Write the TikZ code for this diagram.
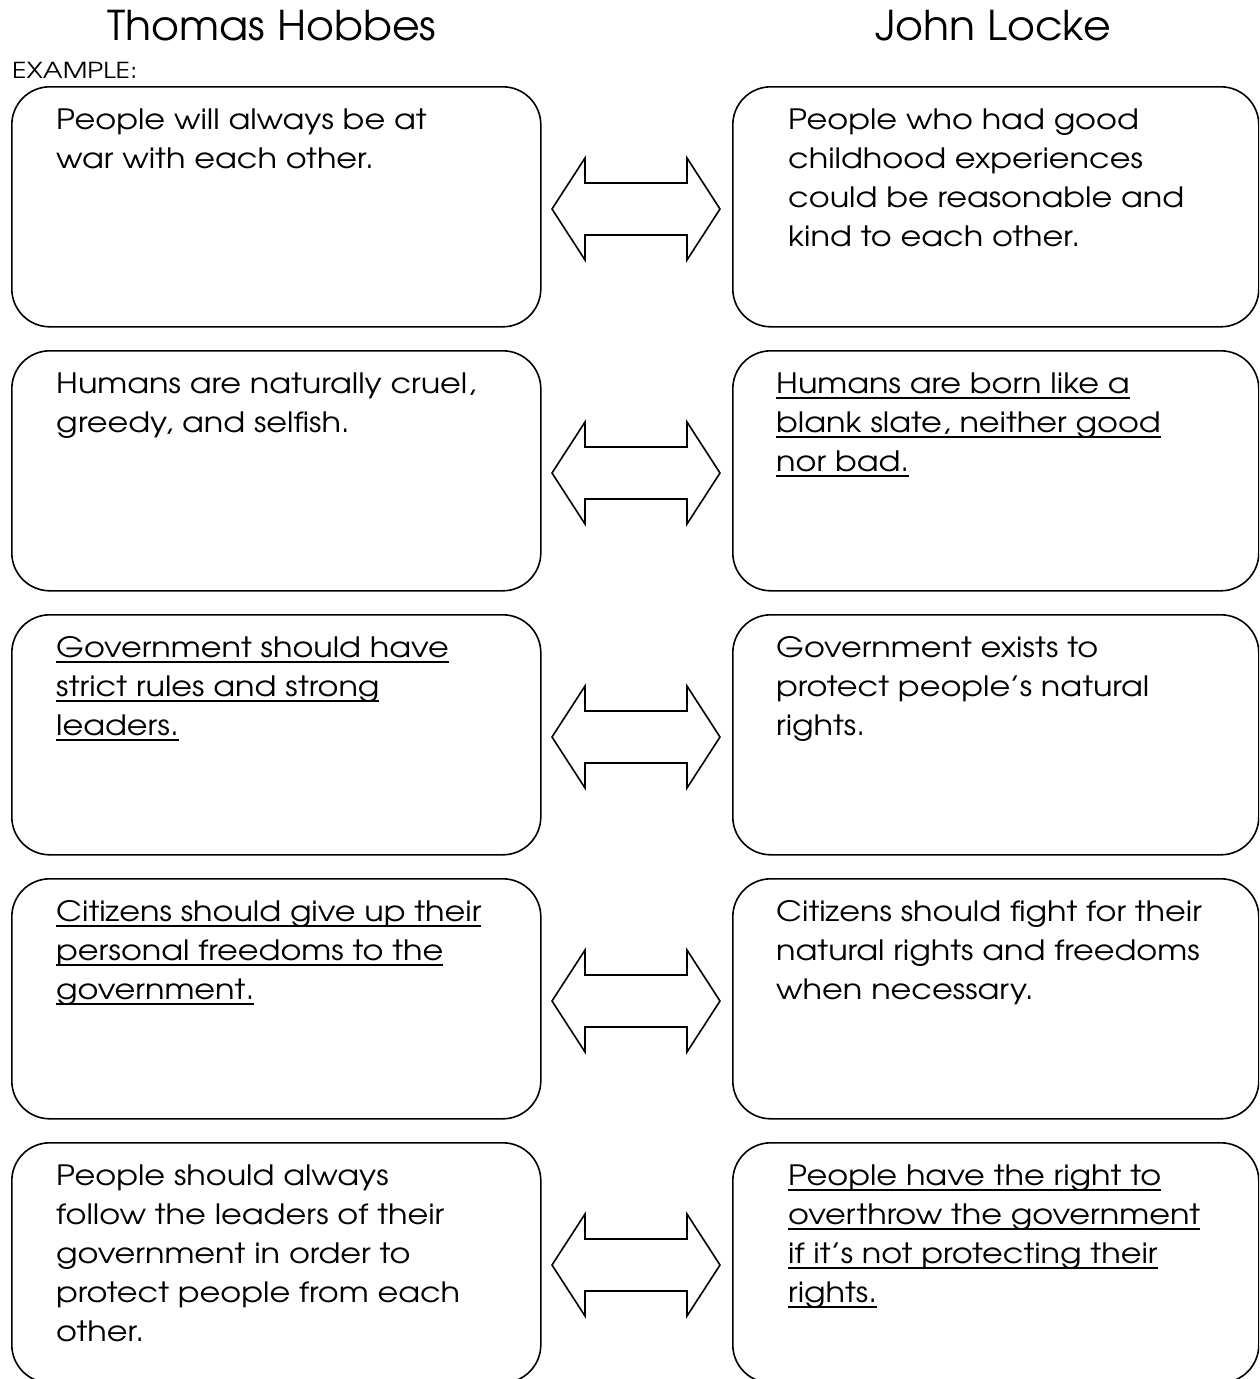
\documentclass[tikz,border=0pt]{standalone}
\usepackage{fontspec}
\setmainfont{TeX Gyre Adventor}
\newfontfamily\bodyfont[FakeStretch=1.14]{TeX Gyre Adventor}
\newfontfamily\titlefont[FakeStretch=1.04]{TeX Gyre Adventor}
\newfontfamily\exfont[FakeStretch=1.22]{TeX Gyre Adventor}
\newcommand{\myul}[1]{\leavevmode\setbox0\hbox{#1}\rlap{\rule[-5.6pt]{\wd0}{1.7pt}}\box0}
\newcommand{\boxtext}[1]{\parbox[t]{470pt}{\bodyfont\fontsize{28}{39}\selectfont\raggedright #1}}
\begin{document}
\begin{tikzpicture}[x=1pt,y=-1pt]
\tikzset{
  box/.style={draw,line width=1.6pt,rounded corners=38pt,inner sep=0pt,minimum width=529pt,minimum height=240pt,anchor=north west},
  body/.style={anchor=base west,inner sep=0pt},
  dbl/.style={draw,line width=1.6pt,line join=miter},
  title/.style={anchor=base,inner sep=0pt,font=\titlefont\fontsize{41}{41}\selectfont}
}
\useasboundingbox (0,0) rectangle (1259,1379);
\clip (0,0) rectangle (1259,1379);
\node[title] (th) at (272,40) {Thomas Hobbes};
\node[title] (jl) at (993,40) {John Locke};
\node[anchor=base west,inner sep=0pt,font=\exfont\fontsize{22}{22}\selectfont] (ex) at (12,78) {EXAMPLE:};
\foreach \t [count=\i] in {86,350,614,878,1142}{
  \node[box] (L\i) at (11,\t) {};
  \node[box,minimum width=526pt] (R\i) at (732,\t) {};
  \pgfmathsetmacro{\cy}{\t+123}
  \draw[dbl] (552,\cy) -- (585,\cy-51) -- (585,\cy-26) -- (687,\cy-26) -- (687,\cy-51) -- (720,\cy) -- (687,\cy+51) -- (687,\cy+26) -- (585,\cy+26) -- (585,\cy+51) -- cycle;
}
% left texts
\node[body] (lt1) at (56,129) {\boxtext{People will always be at\\war with each other.}};
\node[body] (lt2) at (56,393) {\boxtext{Humans are naturally cruel,\\greedy, and selfish.}};
\node[body] (lt3) at (56,657) {\boxtext{\myul{Government should have}\\\myul{strict rules and strong}\\\myul{leaders.}}};
\node[body] (lt4) at (56,921) {\boxtext{\myul{Citizens should give up their}\\\myul{personal freedoms to the}\\\myul{government.}}};
\node[body] (lt5) at (56,1185) {\boxtext{People should always\\follow the leaders of their\\government in order to\\protect people from each\\other.}};
% right texts
\node[body] (rt1) at (788,129) {\boxtext{People who had good\\childhood experiences\\could be reasonable and\\kind to each other.}};
\node[body] (rt2) at (776,393) {\boxtext{\myul{Humans are born like a}\\\myul{blank slate, neither good}\\\myul{nor bad.}}};
\node[body] (rt3) at (776,657) {\boxtext{Government exists to\\protect people’s natural\\rights.}};
\node[body] (rt4) at (776,921) {\boxtext{Citizens should fight for their\\natural rights and freedoms\\when necessary.}};
\node[body] (rt5) at (788,1185) {\boxtext{\myul{People have the right to}\\\myul{overthrow the government}\\\myul{if it’s not protecting their}\\\myul{rights.}}};
\end{tikzpicture}
\end{document}
